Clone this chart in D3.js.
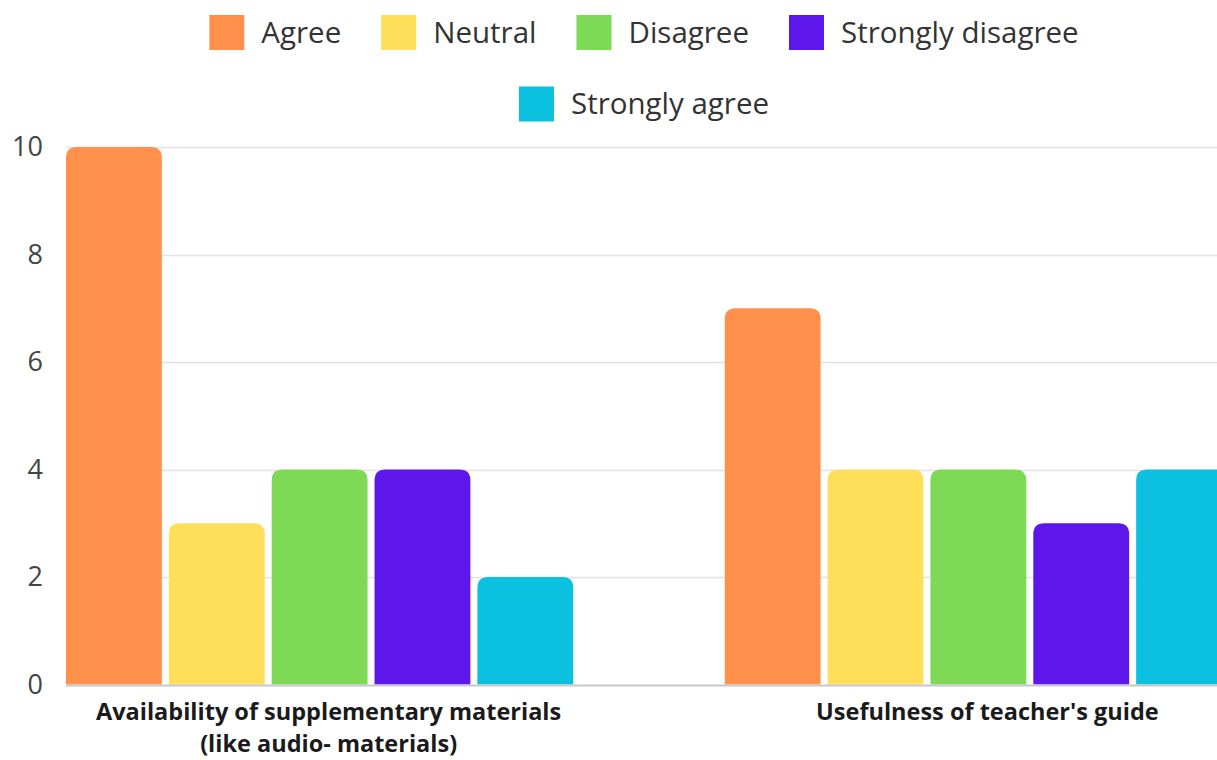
<!DOCTYPE html>
<html>
<head>
<meta charset="utf-8">
<script src="https://cdn.jsdelivr.net/npm/d3@7"></script>
<style>
  html, body { margin: 0; padding: 0; background: #fff; }
  svg { display: block; }
</style>
</head>
<body>
<svg id="chart" width="1217" height="760"></svg>
<script>
// ---- data ----
const categories = [
  ["Availability of supplementary materials", "(like audio- materials)"],
  ["Usefulness of teacher's guide"]
];
const categoryKeys = ["Availability", "Usefulness"];
const seriesNames = ["Agree", "Neutral", "Disagree", "Strongly disagree", "Strongly agree"];
const seriesColors = ["#FF914D", "#FFDE59", "#7ED957", "#5E17EB", "#0CC0DF"];
const agreeValues = [10, 7];
const neutralValues = [3, 4];
const disagreeValues = [4, 4];
const stronglyDisagreeValues = [4, 3];
const stronglyAgreeValues = [2, 4];
const yTicks = [0, 2, 4, 6, 8, 10];

const seriesValues = [agreeValues, neutralValues, disagreeValues, stronglyDisagreeValues, stronglyAgreeValues];

const W = 1217, H = 760;
const svg = d3.select("#chart");
const FONT = "'Open Sans', sans-serif";

const plotLeft = 66, plotRight = 1232, plotRightVisible = 1217;
const y = d3.scaleLinear().domain([0, 10]).range([684.5, 147]);
const x0 = d3.scaleBand().domain(categoryKeys).range([plotLeft, plotRight]).paddingInner(0.23).paddingOuter(0);
const x1 = d3.scaleBand().domain(seriesNames).range([0, x0.bandwidth()]).paddingInner(0.068).paddingOuter(0);
const color = d3.scaleOrdinal().domain(seriesNames).range(seriesColors);

// gridlines
const grid = svg.append("g");
grid.selectAll("line").data(yTicks.filter(t => t !== 0)).join("line")
  .attr("x1", plotLeft).attr("x2", plotRightVisible)
  .attr("y1", d => Math.round(y(d)) + 0.5).attr("y2", d => Math.round(y(d)) + 0.5)
  .attr("stroke", "#e3e3e3").attr("stroke-width", 1.5);

// y axis labels
const yAxis = d3.axisLeft(y).tickValues(yTicks).tickSize(0).tickPadding(0);
const yg = svg.append("g").attr("transform", `translate(43,0)`).call(yAxis);
yg.select(".domain").remove();
yg.selectAll("text").attr("font-family", FONT).attr("font-size", 27).attr("fill", "#444");

// bars
function topRounded(x, yTop, w, h, r) {
  r = Math.min(r, w / 2, h);
  return `M${x},${yTop + h}V${yTop + r}Q${x},${yTop} ${x + r},${yTop}H${x + w - r}Q${x + w},${yTop} ${x + w},${yTop + r}V${yTop + h}Z`;
}
const barData = [];
categoryKeys.forEach((c, ci) => {
  seriesNames.forEach((s, si) => {
    barData.push({ cat: c, series: s, value: seriesValues[si][ci] });
  });
});
svg.append("g").selectAll("path").data(barData).join("path")
  .attr("d", d => {
    const bx = x0(d.cat) + x1(d.series);
    const yt = y(d.value);
    return topRounded(bx, yt, x1.bandwidth(), y(0) - yt, 11);
  })
  .attr("fill", d => color(d.series));

// baseline
svg.append("line")
  .attr("x1", plotLeft).attr("x2", plotRightVisible)
  .attr("y1", y(0) + 1).attr("y2", y(0) + 1)
  .attr("stroke", "#c8c8c8").attr("stroke-width", 2);

// category labels (one text per line)
const catG = svg.append("g");
categoryKeys.forEach((c, ci) => {
  const cx = x0(c) + x0.bandwidth() / 2 + 9;
  categories[ci].forEach((line, li) => {
    catG.append("text")
      .attr("x", cx).attr("y", 720 + li * 31.5)
      .attr("text-anchor", "middle")
      .attr("font-family", FONT).attr("font-weight", "bold")
      .attr("font-size", 23.5).attr("fill", "#1a1a1a")
      .text(line);
  });
});

// legend
const legend = svg.append("g");
const rows = [seriesNames.slice(0, 4), seriesNames.slice(4)];
const rowY = [32.5, 104];
const sw = 35, gapST = 17, gapItem = 40, legendCenter = 644;
rows.forEach((row, ri) => {
  const g = legend.append("g");
  let cx = 0;
  row.forEach(name => {
    const item = g.append("g").attr("transform", `translate(${cx},0)`);
    item.append("rect").attr("x", 0).attr("y", rowY[ri] - sw / 2).attr("width", sw).attr("height", sw)
      .attr("fill", color(name));
    const t = item.append("text").attr("x", sw + gapST).attr("y", rowY[ri]).attr("dy", "0.35em")
      .attr("font-family", FONT).attr("font-size", 29.5).attr("fill", "#333").text(name);
    cx += sw + gapST + t.node().getComputedTextLength() + gapItem;
  });
  const total = cx - gapItem;
  g.attr("transform", `translate(${legendCenter - total / 2},0)`);
});
</script>
</body>
</html>
